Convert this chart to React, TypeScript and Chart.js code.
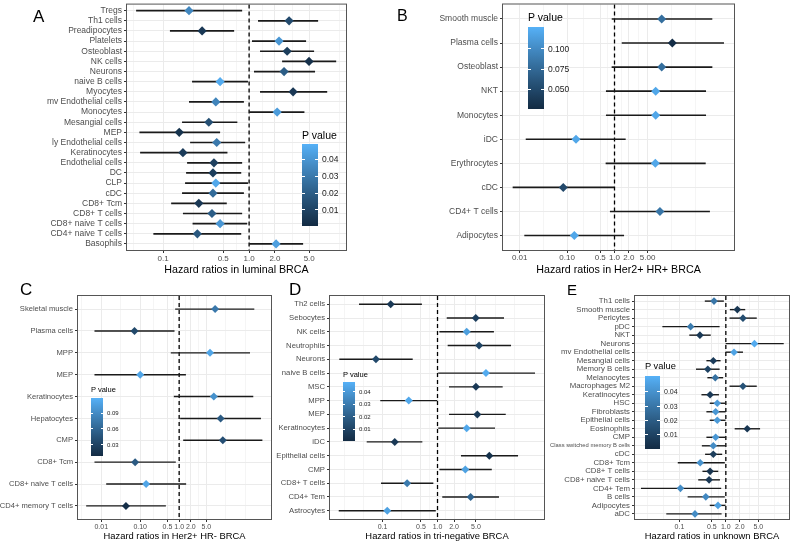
import React, { useEffect, useRef } from "react";
import { Chart, registerables } from "chart.js";
Chart.register(...registerables);

const FONT = "'Liberation Sans', Arial, Helvetica, sans-serif";
const LOW = "#132B43";
const HIGH = "#56B1F7";

// ---------- Panel A : luminal BRCA
const cellsA = ["Tregs", "Th1 cells", "Preadipocytes", "Platelets", "Osteoblast", "NK cells", "Neurons", "naive B cells", "Myocytes", "mv Endothelial cells", "Monocytes", "Mesangial cells", "MEP", "ly Endothelial cells", "Keratinocytes", "Endothelial cells", "DC", "CLP", "cDC", "CD8+ Tcm", "CD8+ T cells", "CD8+ naive T cells", "CD4+ naive T cells", "Basophils"];
const hrA = [0.2, 2.92, 0.284, 2.23, 2.77, 4.98, 2.55, 0.46, 3.25, 0.41, 2.12, 0.34, 0.154, 0.42, 0.17, 0.39, 0.38, 0.41, 0.38, 0.26, 0.37, 0.46, 0.25, 2.06];
const lowA = [0.0485, 1.27, 0.12, 1.08, 1.34, 2.42, 1.14, 0.217, 1.34, 0.2, 1.0, 0.166, 0.053, 0.206, 0.054, 0.19, 0.185, 0.18, 0.166, 0.124, 0.17, 0.22, 0.077, 1.0];
const highA = [0.83, 6.35, 0.67, 4.6, 5.7, 10.3, 5.85, 0.97, 8.1, 0.87, 4.4, 0.73, 0.46, 0.9, 0.56, 0.83, 0.81, 0.97, 0.87, 0.55, 0.83, 0.95, 0.81, 4.25];
const pA = [0.035, 0.013, 0.006, 0.04, 0.008, 0.003, 0.02, 0.047, 0.006, 0.034, 0.042, 0.015, 0.004, 0.03, 0.007, 0.009, 0.008, 0.046, 0.025, 0.006, 0.02, 0.04, 0.018, 0.043];
const xTicksA = [0.1, 0.5, 1, 2, 5];
const xTickLabelsA = ["0.1", "0.5", "1.0", "2.0", "5.0"];
const xLimitsA = [0.038, 13.4];
const pRangeA = [0.0005, 0.049];
const legendTicksA = [0.01, 0.02, 0.03, 0.04];
const legendLabelsA = ["0.01", "0.02", "0.03", "0.04"];

// ---------- Panel B : Her2+ HR+
const cellsB = ["Smooth muscle", "Plasma cells", "Osteoblast", "NKT", "Monocytes", "iDC", "Erythrocytes", "cDC", "CD4+ T cells", "Adipocytes"];
const hrB = [9.9, 16.6, 9.9, 7.39, 7.39, 0.154, 7.26, 0.083, 9.1, 0.142];
const lowB = [0.873, 1.42, 0.87, 0.66, 0.66, 0.0134, 0.65, 0.0071, 0.8, 0.0125];
const highB = [115.7, 204, 116, 85.3, 85.3, 1.72, 84, 0.98, 103, 1.59];
const pB = [0.08, 0.028, 0.08, 0.12, 0.12, 0.12, 0.12, 0.05, 0.085, 0.12];
const xTicksB = [0.01, 0.1, 0.5, 1, 2, 5];
const xTickLabelsB = ["0.01", "0.10", "0.5", "1.0", "2.0", "5.00"];
const xLimitsB = [0.00444, 332];
const pRangeB = [0.026, 0.127];
const legendTicksB = [0.05, 0.075, 0.1];
const legendLabelsB = ["0.050", "0.075", "0.100"];

// ---------- Panel C : Her2+ HR-
const cellsC = ["Skeletal muscle", "Plasma cells", "MPP", "MEP", "Keratinocytes", "Hepatocytes", "CMP", "CD8+ Tcm", "CD8+ naive T cells", "CD4+ memory T cells"];
const hrC = [8.4, 0.0714, 6.2, 0.1, 7.75, 11.6, 13.2, 0.074, 0.142, 0.043];
const lowC = [0.79, 0.0067, 0.61, 0.0067, 0.73, 1.06, 1.27, 0.0067, 0.0134, 0.0041];
const highC = [85, 0.76, 66, 1.49, 80, 126, 137, 0.82, 1.51, 0.456];
const pC = [0.075, 0.035, 0.11, 0.11, 0.095, 0.05, 0.04, 0.05, 0.11, 0.012];
const xTicksC = [0.01, 0.1, 0.5, 1, 2, 5];
const xTickLabelsC = ["0.01", "0.10", "0.5", "1.0", "2.0", "5.0"];
const xLimitsC = [0.00253, 228];
const pRangeC = [0.008, 0.119];
const legendTicksC = [0.03, 0.06, 0.09];
const legendLabelsC = ["0.03", "0.06", "0.09"];

// ---------- Panel D : tri-negative
const cellsD = ["Th2 cells", "Sebocytes", "NK cells", "Neutrophils", "Neurons", "naive B cells", "MSC", "MPP", "MEP", "Keratinocytes", "iDC", "Epithelial cells", "CMP", "CD8+ T cells", "CD4+ Tem", "Astrocytes"];
const hrD = [0.141, 4.95, 3.39, 5.69, 0.076, 7.6, 5.0, 0.3, 5.29, 3.39, 0.167, 8.75, 3.2, 0.28, 4.0, 0.122];
const lowD = [0.0374, 1.47, 1.08, 1.53, 0.0164, 1.03, 1.62, 0.091, 1.62, 1.03, 0.0516, 2.67, 1.08, 0.094, 1.22, 0.016];
const highD = [0.52, 16.2, 10.6, 21.7, 0.354, 59.3, 15.3, 0.99, 17.4, 11.1, 0.53, 29.1, 9.7, 0.84, 13.1, 0.93];
const pD = [0.006, 0.008, 0.042, 0.01, 0.012, 0.046, 0.006, 0.045, 0.006, 0.045, 0.006, 0.003, 0.043, 0.03, 0.022, 0.043];
const xTicksD = [0.1, 0.5, 1, 2, 5];
const xTickLabelsD = ["0.1", "0.5", "1.0", "2.0", "5.0"];
const xLimitsD = [0.0111, 86.3];
const pRangeD = [0.0003, 0.048];
const legendTicksD = [0.01, 0.02, 0.03, 0.04];
const legendLabelsD = ["0.01", "0.02", "0.03", "0.04"];

// ---------- Panel E : unknown
const cellsE = ["Th1 cells", "Smooth muscle", "Pericytes", "pDC", "NKT", "Neurons", "mv Endothelial cells", "Mesangial cells", "Memory B cells", "Melanocytes", "Macrophages M2", "Keratinocytes", "HSC", "Fibroblasts", "Epithelial cells", "Eosinophils", "CMP", "Class switched memory B cells", "cDC", "CD8+ Tcm", "CD8+ T cells", "CD8+ naive T cells", "CD4+ Tem", "B cells", "Adipocytes", "aDC"];
const hrE = [0.556, 1.77, 2.34, 0.174, 0.276, 4.14, 1.5, 0.537, 0.408, 0.592, 2.34, 0.457, 0.653, 0.603, 0.653, 2.89, 0.603, 0.537, 0.537, 0.28, 0.457, 0.435, 0.105, 0.37, 0.676, 0.216];
const lowE = [0.352, 1.22, 1.2, 0.0428, 0.163, 0.99, 0.99, 0.381, 0.227, 0.4, 1.2, 0.298, 0.45, 0.381, 0.45, 1.55, 0.381, 0.304, 0.357, 0.092, 0.313, 0.254, 0.0148, 0.15, 0.45, 0.052];
const highE = [0.906, 2.62, 4.64, 0.734, 0.472, 17.7, 2.34, 0.77, 0.734, 0.876, 4.64, 0.71, 0.985, 0.985, 0.985, 5.47, 0.985, 0.985, 0.834, 0.95, 0.686, 0.746, 0.794, 0.95, 0.985, 0.81];
const pE = [0.03, 0.005, 0.014, 0.032, 0.006, 0.049, 0.046, 0.007, 0.01, 0.028, 0.016, 0.006, 0.043, 0.042, 0.043, 0.005, 0.042, 0.038, 0.008, 0.04, 0.004, 0.006, 0.038, 0.037, 0.045, 0.038];
const xTicksE = [0.1, 0.5, 1, 2, 5];
const xTickLabelsE = ["0.1", "0.5", "1.0", "2.0", "5.0"];
const xLimitsE = [0.011, 23.0];
const pRangeE = [0.0, 0.051];
const legendTicksE = [0.01, 0.02, 0.03, 0.04];
const legendLabelsE = ["0.01", "0.02", "0.03", "0.04"];

// ---------- colour helpers (Lab interpolation like ggplot's gradient)
function hexToRgb(h: string) {
  return [parseInt(h.slice(1, 3), 16), parseInt(h.slice(3, 5), 16), parseInt(h.slice(5, 7), 16)];
}
const lin = (c: number) => { c /= 255; return c <= 0.04045 ? c / 12.92 : Math.pow((c + 0.055) / 1.055, 2.4); };
const gam = (c: number) => { const v = c <= 0.0031308 ? 12.92 * c : 1.055 * Math.pow(c, 1 / 2.4) - 0.055; return Math.round(Math.max(0, Math.min(1, v)) * 255); };
function rgbToLab(rgb: number[]) {
  const [r, g, b] = rgb.map(lin);
  const X = (0.4124564 * r + 0.3575761 * g + 0.1804375 * b) / 0.95047;
  const Y = 0.2126729 * r + 0.7151522 * g + 0.072175 * b;
  const Z = (0.0193339 * r + 0.119192 * g + 0.9503041 * b) / 1.08883;
  const f = (t: number) => (t > 0.008856 ? Math.cbrt(t) : 7.787 * t + 16 / 116);
  const fx = f(X), fy = f(Y), fz = f(Z);
  return [116 * fy - 16, 500 * (fx - fy), 200 * (fy - fz)];
}
function labToRgb(lab: number[]) {
  const [L, a, b] = lab;
  const fy = (L + 16) / 116, fx = fy + a / 500, fz = fy - b / 200;
  const fi = (t: number) => (t * t * t > 0.008856 ? t * t * t : (t - 16 / 116) / 7.787);
  const X = fi(fx) * 0.95047, Y = fi(fy), Z = fi(fz) * 1.08883;
  const r = 3.2404542 * X - 1.5371385 * Y - 0.4985314 * Z;
  const g = -0.969266 * X + 1.8760108 * Y + 0.041556 * Z;
  const bb = 0.0556434 * X - 0.2040259 * Y + 1.0572252 * Z;
  return [gam(r), gam(g), gam(bb)];
}
const LAB_LOW = rgbToLab(hexToRgb(LOW));
const LAB_HIGH = rgbToLab(hexToRgb(HIGH));
function colorAt(t: number) {
  const u = Math.max(0, Math.min(1, t));
  const lab = LAB_LOW.map((v, i) => v + (LAB_HIGH[i] - v) * u);
  const [r, g, b] = labToRgb(lab);
  return `rgb(${r},${g},${b})`;
}
function pColor(p: number, range: number[]) {
  return colorAt((p - range[0]) / (range[1] - range[0]));
}

// ggplot-style regular minor breaks (in log10 space)
function minorBreaks(b: number[], lo: number, hi: number) {
  const bb = b.slice();
  const bd = bb[1] - bb[0];
  if (lo < bb[0]) bb.unshift(bb[0] - bd);
  if (hi > bb[bb.length - 1]) bb.push(bb[bb.length - 1] + bd);
  const out: number[] = [];
  for (let i = 0; i < bb.length - 1; i++) out.push(bb[i], (bb[i] + bb[i + 1]) / 2);
  out.push(bb[bb.length - 1]);
  return out.filter((v) => !b.some((m) => Math.abs(m - v) < 1e-9));
}

type Box = { left: number; top: number; width: number; height: number };
type Plot = { l: number; t: number; r: number; b: number };

type PanelProps = {
  cells: string[]; hr: number[]; low: number[]; high: number[]; p: number[]; pRange: number[];
  xTicks: number[]; xTickLabels: string[]; xLimits: number[]; title: string;
  box: Box; plot: Plot; yFont: number; smallFont?: number; xFont: number; titleFont: number; titlePad: number;
  xTickPad: number; pointR: number; barW: number;
};

function ForestPanel(props: PanelProps) {
  const ref = useRef<HTMLCanvasElement>(null);
  const { box, plot } = props;
  useEffect(() => {
    const { cells, hr, low, high, p, pRange, xTicks, xTickLabels, xLimits, title } = props;
    const n = cells.length;
    const padTop = plot.t - box.top;
    const padRight = box.left + box.width - plot.r;
    const yW = plot.l - box.left;
    const xH = box.top + box.height - plot.b;
    const lmin = Math.log10(xLimits[0]);
    const lmax = Math.log10(xLimits[1]);
    const majors = xTicks.map((v) => Math.log10(v));
    const minors = minorBreaks(majors, lmin, lmax);
    const gridVals = [...majors, ...minors]
      .filter((v) => v >= lmin && v <= lmax)
      .sort((a, b) => a - b)
      .map((v) => Math.pow(10, v));
    const majorIdx = (v: number) => majors.findIndex((m) => Math.abs(Math.log10(v) - m) < 1e-6);

    const bars = cells.map((c, i) => ({
      label: c,
      data: [{ x: low[i], y: i }, { x: high[i], y: i }],
      showLine: true,
      borderColor: "#1a1a1a",
      borderWidth: props.barW,
      pointRadius: 0,
      order: 2,
    }));
    const points = {
      label: "HR",
      data: hr.map((v, i) => ({ x: v, y: i })),
      showLine: false,
      pointStyle: "rectRot",
      pointRadius: props.pointR,
      pointBackgroundColor: p.map((v) => pColor(v, pRange)),
      pointBorderWidth: 0,
      order: 1,
    };

    const deco = {
      id: "deco",
      beforeDatasetsDraw(chart: any) {
        const { ctx, chartArea } = chart;
        const x = chart.scales.x.getPixelForValue(1);
        ctx.save();
        ctx.strokeStyle = "#000";
        ctx.lineWidth = 1.3;
        ctx.setLineDash([4, 3]);
        ctx.beginPath();
        ctx.moveTo(x, chartArea.top);
        ctx.lineTo(x, chartArea.bottom);
        ctx.stroke();
        ctx.restore();
      },
      afterDraw(chart: any) {
        const { ctx, chartArea } = chart;
        ctx.save();
        ctx.strokeStyle = "#555";
        ctx.lineWidth = 1;
        ctx.strokeRect(chartArea.left - 0.5, chartArea.top - 0.5, chartArea.right - chartArea.left + 1, chartArea.bottom - chartArea.top + 1);
        ctx.restore();
      },
    };

    const chart = new Chart(ref.current as HTMLCanvasElement, {
      type: "scatter",
      data: { datasets: [...bars, points] as any },
      options: {
        animation: false,
        responsive: false,
        maintainAspectRatio: false,
        devicePixelRatio: 1,
        events: [],
        layout: { padding: { left: 0, top: padTop, right: padRight, bottom: 0 } },
        plugins: { legend: { display: false }, tooltip: { enabled: false } },
        scales: {
          x: {
            type: "logarithmic",
            position: "bottom",
            min: xLimits[0],
            max: xLimits[1],
            bounds: "data",
            afterBuildTicks: (s: any) => { s.ticks = gridVals.map((v) => ({ value: v })); },
            afterFit: (s: any) => { s.height = xH; s.paddingLeft = 0; s.paddingRight = 0; s.paddingTop = 0; s.paddingBottom = 0; },
            ticks: {
              autoSkip: false, maxRotation: 0, minRotation: 0, padding: props.xTickPad, color: "#4D4D4D",
              font: { family: FONT, size: props.xFont, lineHeight: 1.2 },
              callback: (v: any) => { const k = majorIdx(Number(v)); return k >= 0 ? xTickLabels[k] : ""; },
            },
            grid: {
              color: "#EBEBEB",
              lineWidth: (ctx: any) => (ctx.tick && majorIdx(ctx.tick.value) >= 0 ? 1 : 0.5),
              drawTicks: true, tickLength: 3, tickWidth: 1,
              tickColor: (ctx: any) => (ctx.tick && majorIdx(ctx.tick.value) >= 0 ? "#333333" : "rgba(0,0,0,0)"),
            },
            border: { display: false },
            title: { display: true, text: title, color: "#000", font: { family: FONT, size: props.titleFont, lineHeight: 1.2 }, padding: { top: 0, bottom: props.titlePad } },
          } as any,
          y: {
            type: "linear",
            reverse: true,
            min: -0.6,
            max: n - 0.4,
            bounds: "data",
            afterBuildTicks: (s: any) => { s.ticks = cells.map((_, i) => ({ value: i })); },
            afterFit: (s: any) => { s.width = yW; s.paddingLeft = 0; s.paddingRight = 0; s.paddingTop = 0; s.paddingBottom = 0; },
            ticks: {
              autoSkip: false, padding: 2, color: "#4D4D4D",
              font: (ctx: any) => ({ family: FONT, size: props.smallFont && cells[ctx.index] && cells[ctx.index].length > 24 ? props.smallFont : props.yFont, lineHeight: 1.2 }),
              callback: (v: any) => cells[Math.round(Number(v))] ?? "",
            },
            grid: { color: "#EBEBEB", lineWidth: 1, drawTicks: true, tickLength: 3, tickWidth: 1, tickColor: "#333333" },
            border: { display: false },
          } as any,
        },
      },
      plugins: [deco],
    });
    return () => chart.destroy();
  }, []);
  return (
    <canvas
      ref={ref}
      width={box.width}
      height={box.height}
      style={{ position: "absolute", left: box.left, top: box.top, width: box.width, height: box.height }}
    />
  );
}

function Letter({ text, x, baseline, size }: { text: string; x: number; baseline: number; size: number }) {
  return (
    <div style={{ position: "absolute", left: x, top: baseline - 0.847 * size, fontSize: size, lineHeight: size + "px", color: "#000", fontFamily: FONT }}>
      {text}
    </div>
  );
}

function ColorLegend(props: {
  bar: { x: number; y: number; w: number; h: number }; range: number[]; ticks: number[]; labels: string[];
  titleY: number; titleSize: number; labelSize: number;
}) {
  const { bar, range, ticks, labels, titleY, titleSize, labelSize } = props;
  const stops = Array.from({ length: 16 }, (_, k) => colorAt(k / 15)).join(",");
  return (
    <>
      <div style={{ position: "absolute", left: bar.x, top: titleY - titleSize / 2, fontSize: titleSize, lineHeight: titleSize + "px", color: "#000", whiteSpace: "nowrap", fontFamily: FONT }}>
        P value
      </div>
      <div style={{ position: "absolute", left: bar.x, top: bar.y, width: bar.w, height: bar.h, background: `linear-gradient(to top, ${stops})` }} />
      {ticks.map((t, i) => {
        const yy = bar.y + bar.h - ((t - range[0]) / (range[1] - range[0])) * bar.h;
        return (
          <React.Fragment key={i}>
            <div style={{ position: "absolute", left: bar.x, top: yy - 0.5, width: bar.w / 5, height: 1, background: "#fff" }} />
            <div style={{ position: "absolute", left: bar.x + bar.w - bar.w / 5, top: yy - 0.5, width: bar.w / 5, height: 1, background: "#fff" }} />
            <div style={{ position: "absolute", left: bar.x + bar.w + 4, top: yy - labelSize / 2, fontSize: labelSize, lineHeight: labelSize + "px", color: "#1a1a1a", whiteSpace: "nowrap", fontFamily: FONT }}>
              {labels[i]}
            </div>
          </React.Fragment>
        );
      })}
    </>
  );
}

export default function App() {
  return (
    <div style={{ position: "absolute", left: 0, top: 0, width: 793, height: 542, background: "#fff", overflow: "hidden", fontFamily: FONT }}>
      <ForestPanel
        cells={cellsA} hr={hrA} low={lowA} high={highA} p={pA} pRange={pRangeA}
        xTicks={xTicksA} xTickLabels={xTickLabelsA} xLimits={xLimitsA} title="Hazard ratios in luminal BRCA"
        box={{ left: 0, top: 0, width: 360, height: 281 }} plot={{ l: 127, t: 1, r: 346, b: 250 }}
        yFont={8.5} xFont={8} titleFont={10.7} titlePad={4.6} xTickPad={0.5} pointR={4.6} barW={1.7}
      />
      <ForestPanel
        cells={cellsB} hr={hrB} low={lowB} high={highB} p={pB} pRange={pRangeB}
        xTicks={xTicksB} xTickLabels={xTickLabelsB} xLimits={xLimitsB} title="Hazard ratios in Her2+ HR+ BRCA"
        box={{ left: 370, top: 0, width: 423, height: 281 }} plot={{ l: 503, t: 1, r: 734, b: 250 }}
        yFont={8.5} xFont={8} titleFont={10.7} titlePad={4.6} xTickPad={0} pointR={4.5} barW={1.6}
      />
      <ForestPanel
        cells={cellsC} hr={hrC} low={lowC} high={highC} p={pC} pRange={pRangeC}
        xTicks={xTicksC} xTickLabels={xTickLabelsC} xLimits={xLimitsC} title="Hazard ratios in Her2+ HR- BRCA"
        box={{ left: 0, top: 285, width: 280, height: 257 }} plot={{ l: 78, t: 296, r: 271, b: 519 }}
        yFont={7.6} xFont={7} titleFont={9.4} titlePad={0} xTickPad={1.1} pointR={4} barW={1.4}
      />
      <ForestPanel
        cells={cellsD} hr={hrD} low={lowD} high={highD} p={pD} pRange={pRangeD}
        xTicks={xTicksD} xTickLabels={xTickLabelsD} xLimits={xLimitsD} title="Hazard ratios in tri-negative BRCA"
        box={{ left: 270, top: 285, width: 280, height: 257 }} plot={{ l: 330, t: 296, r: 544, b: 519 }}
        yFont={7.7} xFont={7} titleFont={9.4} titlePad={0} xTickPad={0.5} pointR={4} barW={1.4}
      />
      <ForestPanel
        cells={cellsE} hr={hrE} low={lowE} high={highE} p={pE} pRange={pRangeE}
        xTicks={xTicksE} xTickLabels={xTickLabelsE} xLimits={xLimitsE} title="Hazard ratios in unknown BRCA"
        box={{ left: 550, top: 285, width: 243, height: 257 }} plot={{ l: 635, t: 296, r: 791, b: 519 }}
        yFont={7.8} smallFont={5.8} xFont={7} titleFont={9.4} titlePad={0} xTickPad={0.5} pointR={3.8} barW={1.4}
      />

      <Letter text="A" x={33} baseline={22} size={17} />
      <Letter text="B" x={397} baseline={22} size={16} />
      <Letter text="C" x={20} baseline={295} size={17} />
      <Letter text="D" x={289} baseline={295} size={17} />
      <Letter text="E" x={567} baseline={295} size={15} />

      <ColorLegend bar={{ x: 302, y: 144, w: 16, h: 82 }} range={pRangeA} ticks={legendTicksA} labels={legendLabelsA} titleY={135} titleSize={10.5} labelSize={8.5} />
      <ColorLegend bar={{ x: 528, y: 27, w: 16, h: 82 }} range={pRangeB} ticks={legendTicksB} labels={legendLabelsB} titleY={17} titleSize={10.5} labelSize={8.5} />
      <ColorLegend bar={{ x: 91, y: 398, w: 12, h: 58 }} range={pRangeC} ticks={legendTicksC} labels={legendLabelsC} titleY={390} titleSize={7.5} labelSize={6} />
      <ColorLegend bar={{ x: 343, y: 382, w: 12, h: 59 }} range={pRangeD} ticks={legendTicksD} labels={legendLabelsD} titleY={375} titleSize={7.5} labelSize={6} />
      <ColorLegend bar={{ x: 645, y: 376, w: 15, h: 73 }} range={pRangeE} ticks={legendTicksE} labels={legendLabelsE} titleY={367} titleSize={9.3} labelSize={7} />
    </div>
  );
}
